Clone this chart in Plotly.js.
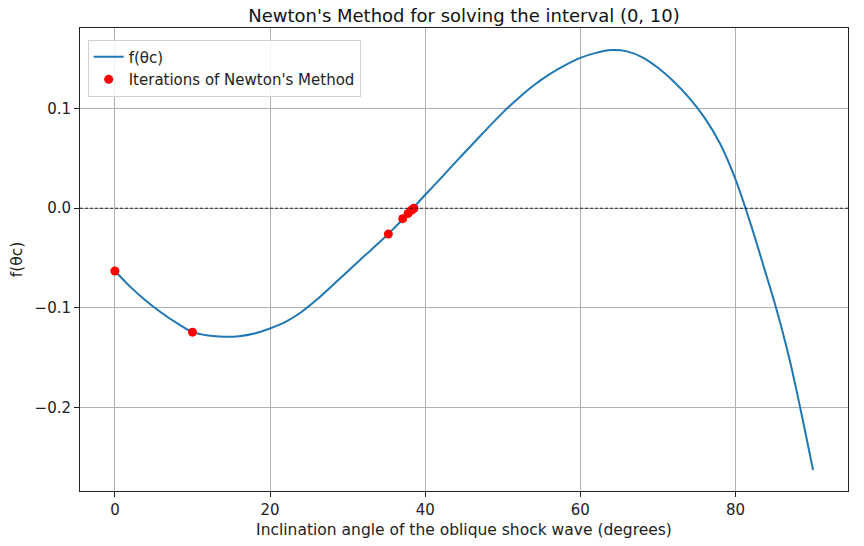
<!DOCTYPE html>
<html>
<head>
<meta charset="utf-8">
<script src="https://cdn.plot.ly/plotly-3.0.1.min.js"></script>
<style>html,body{margin:0;padding:0;background:#fff;}#chart{width:864px;height:546px;}</style>
</head>
<body>
<div id="chart"></div>
<script>
// Curve f(θc)
const curveX = [0, 2, 4, 6, 8, 10, 12, 14, 16, 18, 20, 22, 24, 26, 28, 30, 32, 34, 36, 38, 40, 42, 44, 46, 48, 50, 52, 54, 56, 58, 60, 62, 64, 66, 68, 70, 72, 74, 76, 78, 80, 82, 84, 85, 86, 87, 88, 89, 90];
const curveY = [-0.063, -0.079, -0.093, -0.105, -0.1155, -0.1245, -0.1278, -0.129, -0.1285, -0.1258, -0.1208, -0.1142, -0.1045, -0.092, -0.0778, -0.0635, -0.049, -0.035, -0.020, -0.0035, 0.0135, 0.030, 0.047, 0.0635, 0.080, 0.096, 0.1105, 0.1235, 0.1345, 0.1435, 0.151, 0.156, 0.1588, 0.1575, 0.1515, 0.141, 0.1275, 0.111, 0.091, 0.065, 0.029, -0.017, -0.068, -0.094, -0.122, -0.153, -0.188, -0.225, -0.263];
// Newton iterations
const iterX = [0, 10, 35.25, 37.1, 37.8, 38.25, 38.45, 38.55];
const iterY = [-0.063, -0.1245, -0.026, -0.0105, -0.0052, -0.0018, -0.0006, -0.0001];
const xTicks = [0, 20, 40, 60, 80];
const yTicks = [-0.2, -0.1, 0.0, 0.1];

const font = 'DejaVu Sans, sans-serif';
const traces = [
  {x: curveX, y: curveY, type: 'scatter', mode: 'lines', name: 'f(θc)',
   line: {color: '#1f77b4', width: 2, shape: 'spline', smoothing: 0.8}},
  {x: iterX, y: iterY, type: 'scatter', mode: 'markers', name: "Iterations of Newton's Method",
   marker: {color: 'red', size: 9}}
];
const layout = {
  width: 864, height: 546,
  margin: {l: 80, r: 16, t: 28, b: 55},
  paper_bgcolor: '#fff', plot_bgcolor: '#fff',
  font: {family: font, size: 15, color: '#222'},
  title: {text: "Newton's Method for solving the interval (0, 10)", x: 0.537, xanchor: 'center', y: 0.972, yanchor: 'middle', font: {size: 18, color: '#111', family: font}},
  xaxis: {range: [-4.5, 94.5], tickvals: xTicks, ticktext: xTicks.map(String), showgrid: true, gridcolor: '#b0b0b0', gridwidth: 1,
    zeroline: false, showline: true, linecolor: '#222', linewidth: 1, mirror: true, ticks: 'outside', ticklen: 5, tickcolor: '#222',
    tickfont: {size: 15, family: font},
    title: {text: 'Inclination angle of the oblique shock wave (degrees)', font: {size: 15.5, family: font}, standoff: 6}},
  yaxis: {range: [-0.284, 0.181], tickvals: yTicks, tickformat: '.1f', showgrid: true, gridcolor: '#b0b0b0', gridwidth: 1,
    zeroline: false, showline: true, linecolor: '#222', linewidth: 1, mirror: true, ticks: 'outside', ticklen: 5, tickcolor: '#222',
    tickfont: {size: 15, family: font},
    title: {text: 'f(θc)', font: {size: 15.5, family: font}, standoff: 8}},
  shapes: [{type: 'line', xref: 'paper', x0: 0, x1: 1, yref: 'y', y0: 0, y1: 0, line: {color: '#000', width: 0.8, dash: '3px,2px'}}],
  legend: {x: 0.01, y: 0.975, xanchor: 'left', yanchor: 'top', bgcolor: 'rgba(255,255,255,0.85)', bordercolor: '#d0d0d0', borderwidth: 1,
    font: {size: 15, family: font, color: '#222'}, tracegroupgap: 2},
  showlegend: true
};
Plotly.newPlot('chart', traces, layout, {displayModeBar: false, staticPlot: true});
</script>
</body>
</html>
